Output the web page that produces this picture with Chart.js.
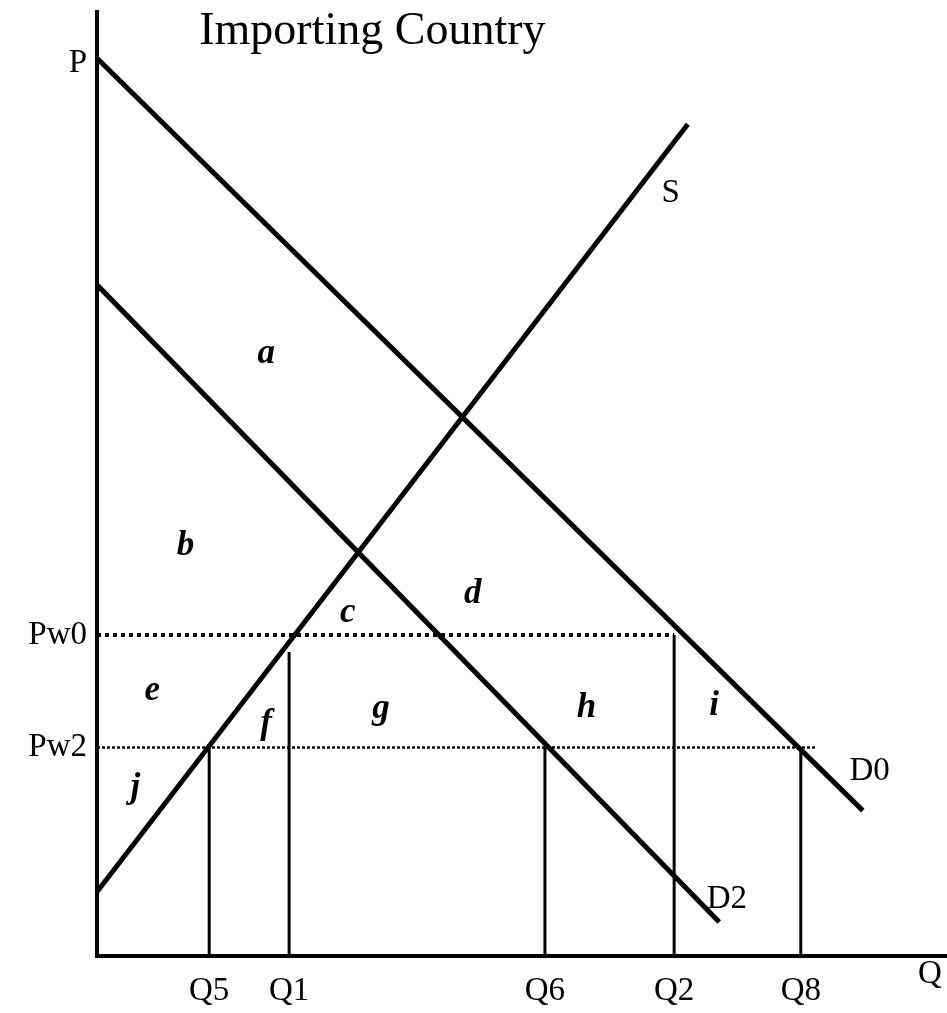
<!DOCTYPE html>
<html>
<head>
<meta charset="utf-8">
<title>Importing Country</title>
<script src="https://cdn.jsdelivr.net/npm/chart.js@4"></script>
<style>
  body { margin: 0; background: #fff; }
  #wrap { width: 947px; height: 1013px; }
</style>
</head>
<body>
<div id="wrap"><canvas id="chart"></canvas></div>
<script>
// curves, as [q, p] end points (q and p on 0..100)
const demandD0 = [[0, 95.1], [90.1, 15.4]];
const demandD2 = [[0, 71.1], [73.2, 3.6]];
const supplyS = [[0, 6.8], [69.5, 88.1]];

// world prices and where the dotted lines stop
const pw0 = 34.0, pw0End = 67.9;
const pw2 = 22.1, pw2End = 84.5;

// quantities and how high their vertical lines go
const qNames = ['Q5', 'Q1', 'Q6', 'Q2', 'Q8'];
const qValues = [13.2, 22.6, 52.7, 67.9, 82.8];
const qTops = [22.1, 32.2, 22.1, 34.0, 22.1];

// price axis labels
const pNames = ['P', 'Pw0', 'Pw2'];
const pValues = [94.6, 34.0, 22.1];

// area letters
const areaNames = ['a', 'b', 'c', 'd', 'e', 'f', 'g', 'h', 'i', 'j'];
const areaQ = [19.9, 10.4, 29.5, 44.2, 6.5, 19.9, 33.4, 57.6, 72.6, 4.5];
const areaP = [62.8, 42.5, 35.4, 37.4, 27.1, 23.6, 25.2, 25.3, 25.5, 16.8];

// other text
const curveNames = ['S', 'D0', 'D2', 'Q'];
const curveQ = [67.5, 90.9, 74.1, 98.0];
const curveP = [79.9, 18.6, 5.1, -2.9];
const titleText = 'Importing Country';
const titleQ = 32.4, titleP = 96.6;

const serif = '"Liberation Serif", "Times New Roman", serif';

function seg(points, width, dash) {
    return {
        data: points.map(p => ({ x: p[0], y: p[1] })),
        borderColor: '#000',
        borderWidth: width,
        borderDash: dash || [],
        borderCapStyle: 'butt',
        pointRadius: 0,
        fill: false,
        tension: 0
    };
}

const datasets = [
    seg(demandD0, 5),
    seg(demandD2, 5),
    seg(supplyS, 5),
    seg([[0, pw0], [pw0End, pw0]], 4, [4, 4]),
    seg([[0, pw2], [pw2End, pw2]], 2.5, [3, 2])
];
qValues.forEach((q, i) => datasets.push(seg([[q, 0], [q, qTops[i]]], 3)));

const textPlugin = {
    id: 'texts',
    afterDraw(chart) {
        const ctx = chart.ctx;
        const x = chart.scales.x, y = chart.scales.y;
        ctx.save();
        ctx.fillStyle = '#000';
        ctx.textAlign = 'center';
        ctx.textBaseline = 'alphabetic';

        ctx.font = 'italic bold 35px ' + serif;
        areaNames.forEach((t, i) => {
            ctx.fillText(t, x.getPixelForValue(areaQ[i]), y.getPixelForValue(areaP[i]));
        });

        ctx.font = '33px ' + serif;
        curveNames.forEach((t, i) => {
            ctx.fillText(t, x.getPixelForValue(curveQ[i]), y.getPixelForValue(curveP[i]));
        });

        ctx.font = '46px ' + serif;
        ctx.fillText(titleText, x.getPixelForValue(titleQ), y.getPixelForValue(titleP));
        ctx.restore();
    }
};

new Chart(document.getElementById('chart'), {
    type: 'line',
    data: { datasets: datasets },
    plugins: [textPlugin],
    options: {
        responsive: true,
        maintainAspectRatio: false,
        animation: false,
        layout: { padding: { top: 12, right: 0, left: 0, bottom: 0 } },
        plugins: {
            legend: { display: false },
            tooltip: { enabled: false }
        },
        scales: {
            x: {
                type: 'linear',
                min: 0,
                max: 100,
                grid: { display: false, drawTicks: false },
                border: { display: true, color: '#000', width: 4 },
                afterBuildTicks: scale => { scale.ticks = qValues.map(v => ({ value: v })); },
                afterFit: scale => {
                    scale.height = 57;
                    scale.paddingLeft = 0;
                    scale.paddingRight = 0;
                },
                ticks: {
                    autoSkip: false,
                    maxRotation: 0,
                    padding: 16,
                    color: '#000',
                    font: { family: serif, size: 33 },
                    callback: (value, index) => qNames[index]
                }
            },
            y: {
                type: 'linear',
                min: 0,
                max: 100,
                grid: { display: false, drawTicks: false },
                border: { display: true, color: '#000', width: 4 },
                afterBuildTicks: scale => { scale.ticks = pValues.map(v => ({ value: v })); },
                afterFit: scale => {
                    scale.width = 97;
                    scale.paddingTop = 0;
                    scale.paddingBottom = 0;
                },
                ticks: {
                    autoSkip: false,
                    padding: 10,
                    color: '#000',
                    font: { family: serif, size: 33 },
                    callback: (value, index) => pNames[index]
                }
            }
        }
    }
});
</script>
</body>
</html>
